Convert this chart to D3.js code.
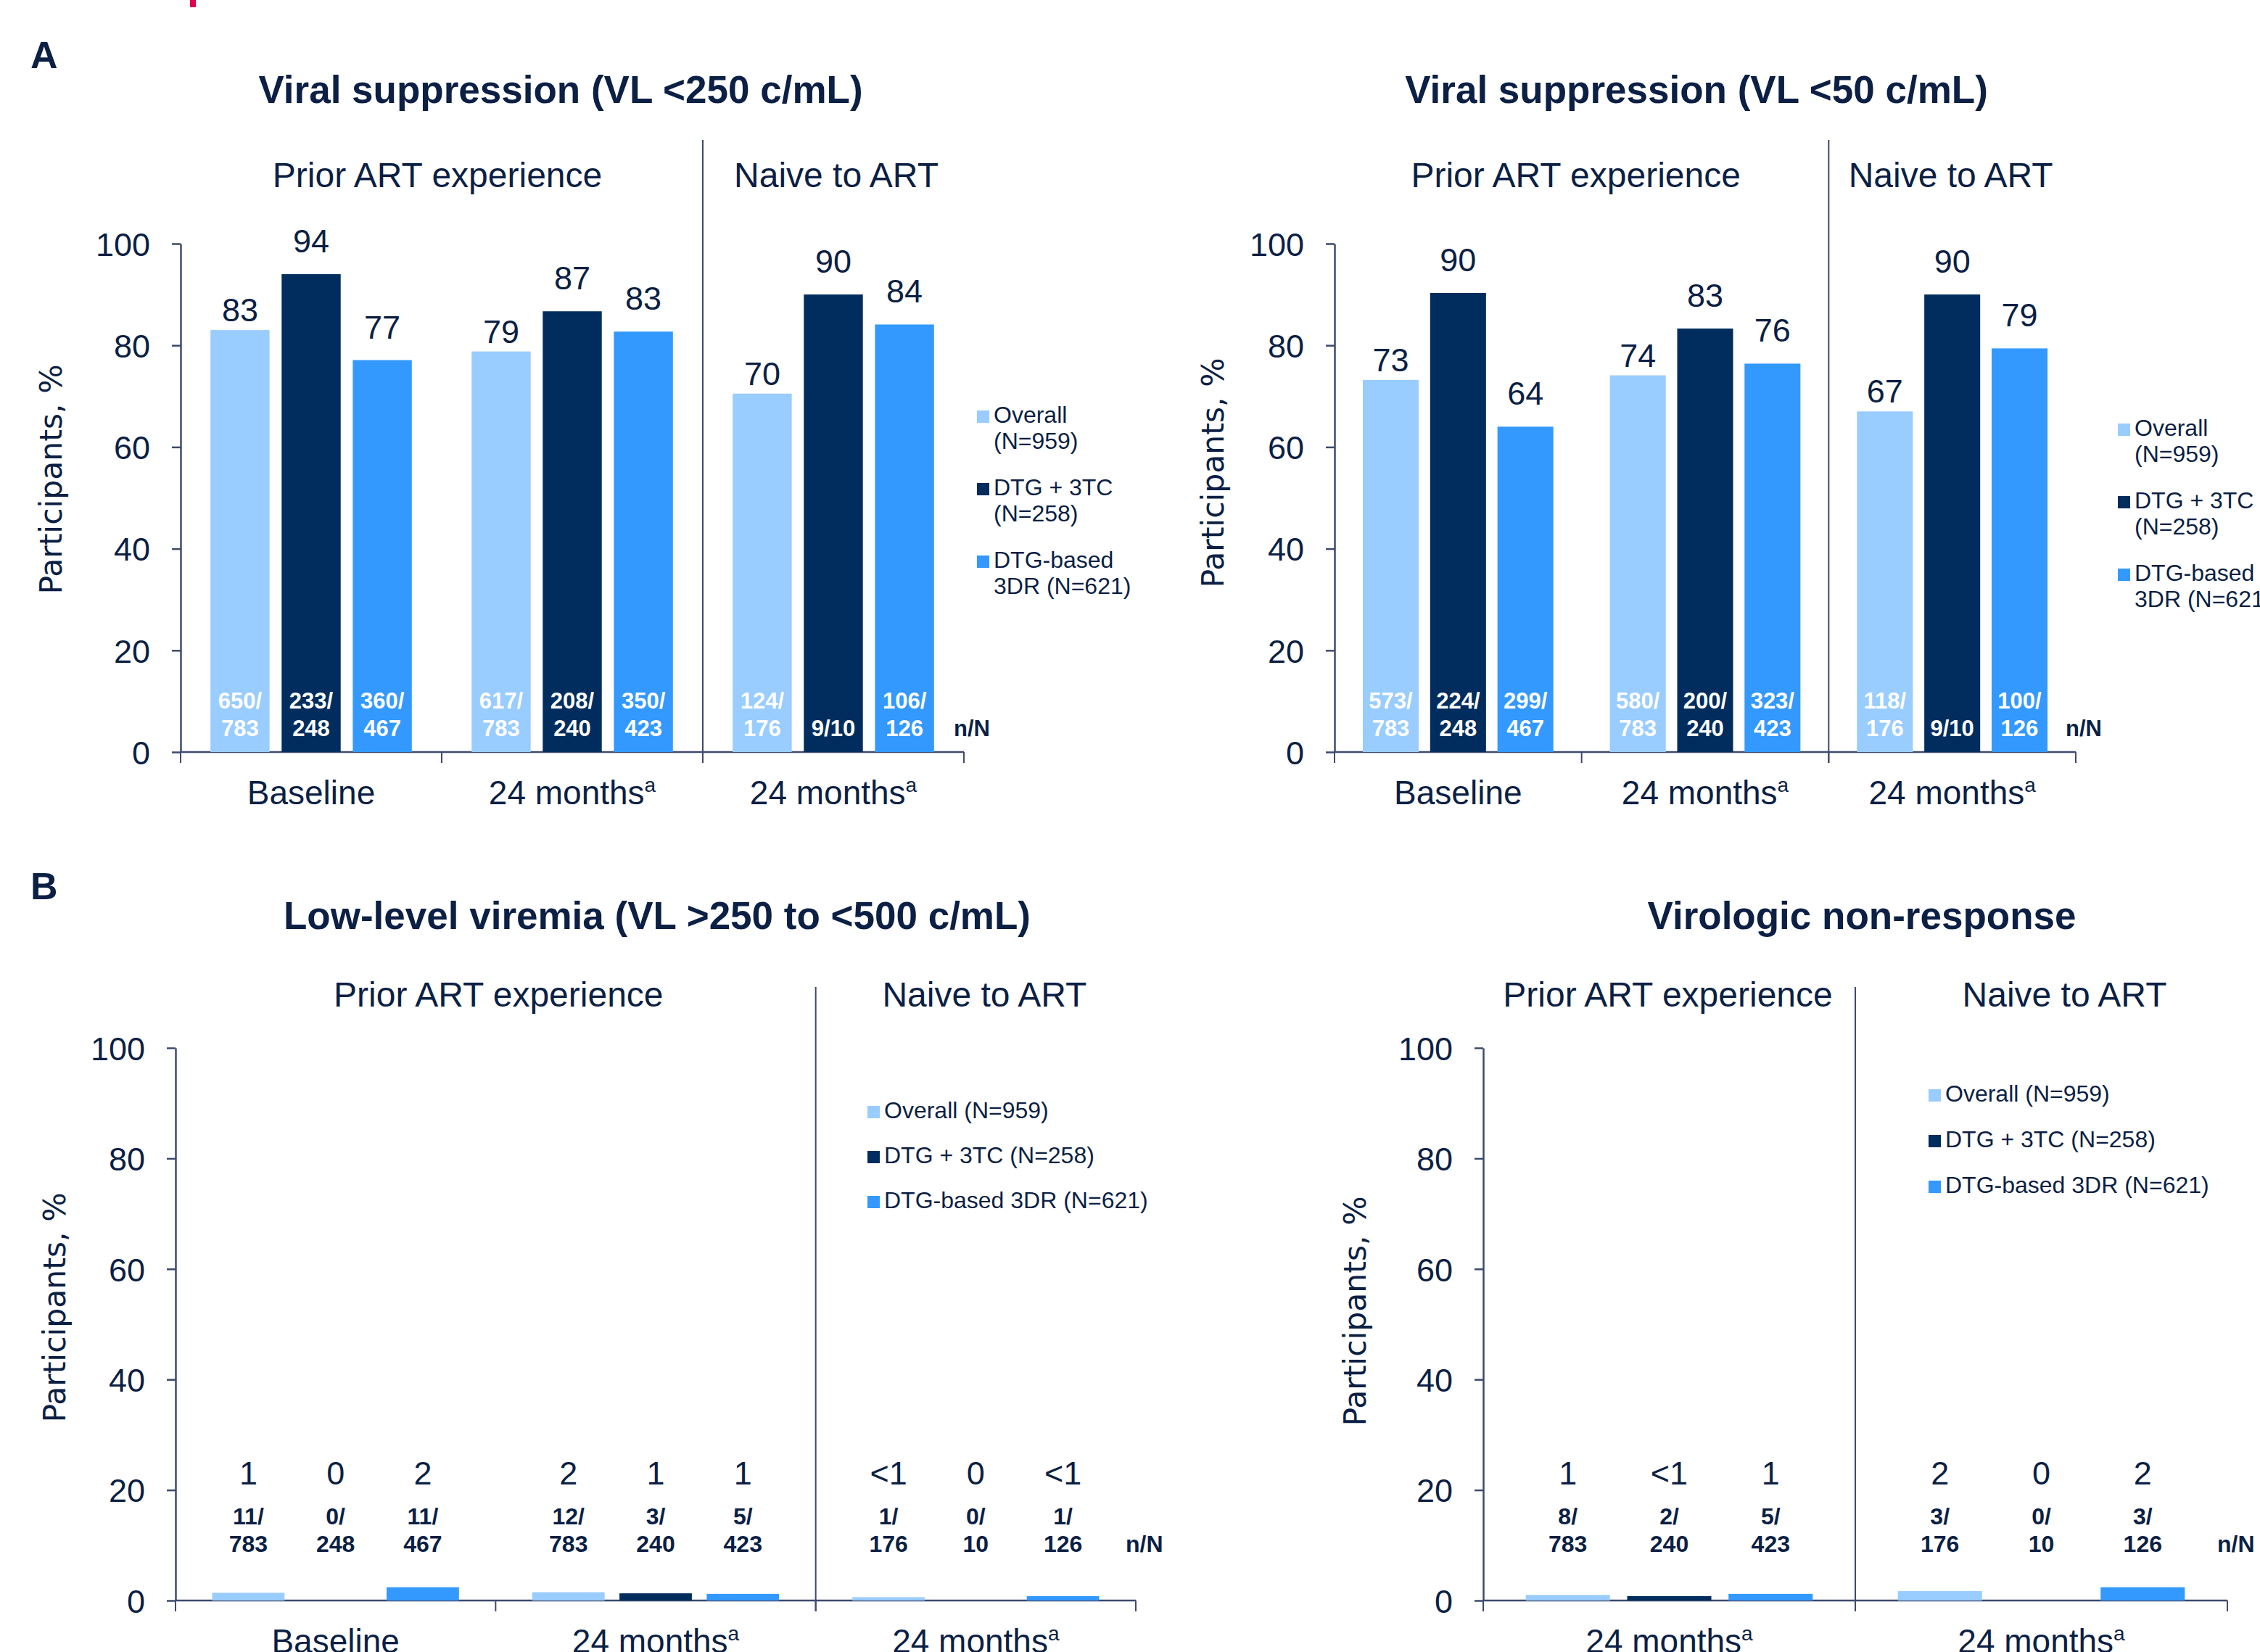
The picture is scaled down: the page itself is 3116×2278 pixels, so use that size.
<!DOCTYPE html>
<html>
<head>
<meta charset="UTF-8">
<style>
    body { margin: 0; background: #ffffff; }
    text { font-family: "Liberation Sans", Arial, sans-serif; fill: #0c1f44; }
    .ytitle { font-family: "DejaVu Sans", Verdana, sans-serif; }
</style>
</head>
<body>
<svg id="chart"></svg>
<script src="https://d3js.org/d3.v7.min.js"></script>
<script>
const width = 3116, height = 2278;
const axisColor = "#3d4a6d";
const textColor = "#0c1f44";

// series / legend
const seriesTwoLine = [["Overall", "(N=959)"], ["DTG + 3TC", "(N=258)"], ["DTG-based", "3DR (N=621)"]];
const seriesOneLine = [["Overall (N=959)"], ["DTG + 3TC (N=258)"], ["DTG-based 3DR (N=621)"]];
const colors = ["#99ccff", "#002d5e", "#3399ff"];
const labelGap = [12, 30, 30];   // space between bar top and value label, per series
const yTicks = [0, 20, 40, 60, 80, 100];

// A: viral suppression VL <250
const vl250Groups = ["Baseline", "24 months", "24 months"];
const vl250Notes = ["", "a", "a"];
const vl250Values = [[83.0, 94.0, 77.1], [78.8, 86.7, 82.7], [70.5, 90.0, 84.1]];
const vl250Labels = [["83", "94", "77"], ["79", "87", "83"], ["70", "90", "84"]];
const vl250NN = [[["650/", "783"], ["233/", "248"], ["360/", "467"]],
                 [["617/", "783"], ["208/", "240"], ["350/", "423"]],
                 [["124/", "176"], ["9/10"], ["106/", "126"]]];

// A: viral suppression VL <50
const vl50Groups = ["Baseline", "24 months", "24 months"];
const vl50Notes = ["", "a", "a"];
const vl50Values = [[73.2, 90.3, 64.0], [74.1, 83.3, 76.4], [67.0, 90.0, 79.4]];
const vl50Labels = [["73", "90", "64"], ["74", "83", "76"], ["67", "90", "79"]];
const vl50NN = [[["573/", "783"], ["224/", "248"], ["299/", "467"]],
                [["580/", "783"], ["200/", "240"], ["323/", "423"]],
                [["118/", "176"], ["9/10"], ["100/", "126"]]];

// B: low-level viremia
const llvGroups = ["Baseline", "24 months", "24 months"];
const llvNotes = ["", "a", "a"];
const llvValues = [[1.4, 0, 2.4], [1.5, 1.3, 1.2], [0.6, 0, 0.8]];
const llvLabels = [["1", "0", "2"], ["2", "1", "1"], ["<1", "0", "<1"]];
const llvNN = [[["11/", "783"], ["0/", "248"], ["11/", "467"]],
               [["12/", "783"], ["3/", "240"], ["5/", "423"]],
               [["1/", "176"], ["0/", "10"], ["1/", "126"]]];

// B: virologic non-response
const vnrGroups = ["24 months", "24 months"];
const vnrNotes = ["a", "a"];
const vnrValues = [[1.0, 0.8, 1.2], [1.7, 0, 2.4]];
const vnrLabels = [["1", "<1", "1"], ["2", "0", "2"]];
const vnrNN = [[["8/", "783"], ["2/", "240"], ["5/", "423"]],
               [["3/", "176"], ["0/", "10"], ["3/", "126"]]];

let svg = d3.select("#chart")
    .attr("width", width)
    .attr("height", height)
    .style("display", "block");

svg.append("rect").attr("width", width).attr("height", height).attr("fill", "#ffffff");

// little red mark at the top (cropped header)
svg.append("rect").attr("x", 262).attr("y", 0).attr("width", 8).attr("height", 10).attr("fill", "#e0004d");

// panel letters
svg.append("text").attr("x", 42).attr("y", 94).attr("font-size", 52).attr("font-weight", "bold").text("A");
svg.append("text").attr("x", 42).attr("y", 1240).attr("font-size", 52).attr("font-weight", "bold").text("B");

function drawPanel(p) {
    const g = svg.append("g");
    const nG = p.groups.length;

    const xGroup = d3.scaleBand().domain(d3.range(nG)).range([p.left, p.right]).padding(0);
    const xBar = d3.scaleBand().domain(d3.range(3)).range([0, xGroup.bandwidth()])
        .paddingInner(0.17).paddingOuter(0.42);
    const y = d3.scaleLinear().domain([0, 100]).range([p.bottom, p.top]);

    // title + sub headers
    g.append("text").attr("x", p.titleX).attr("y", p.titleY)
        .attr("text-anchor", "middle").attr("font-size", 53).attr("font-weight", "bold").text(p.title);

    const priorEnd = nG - 1;
    const priorCenter = (xGroup(0) + xGroup(priorEnd)) / 2;
    const naiveCenter = xGroup(priorEnd) + xGroup.bandwidth() / 2;
    g.append("text").attr("x", priorCenter + p.priorDx).attr("y", p.subY)
        .attr("text-anchor", "middle").attr("font-size", 48).text("Prior ART experience");
    g.append("text").attr("x", naiveCenter + p.naiveDx).attr("y", p.subY)
        .attr("text-anchor", "middle").attr("font-size", 48).text("Naive to ART");

    // divider between prior / naive
    g.append("line")
        .attr("x1", xGroup(priorEnd)).attr("x2", xGroup(priorEnd))
        .attr("y1", p.dividerTop).attr("y2", p.bottom + 15)
        .attr("stroke", axisColor).attr("stroke-width", 2);

    // y axis
    const yAxis = g.append("g")
        .attr("transform", `translate(${p.left},0)`)
        .call(d3.axisLeft(y).tickValues(yTicks).tickSize(12).tickSizeOuter(0).tickPadding(30));
    yAxis.select(".domain").attr("stroke", axisColor).attr("stroke-width", 2.5);
    yAxis.selectAll(".tick line").attr("stroke", axisColor).attr("stroke-width", 2.5);
    yAxis.selectAll(".tick text").attr("font-size", 45).attr("dy", "0.36em");

    g.append("text").attr("class", "ytitle")
        .attr("transform", `translate(${p.yTitleX},${p.yTitleY}) rotate(-90)`)
        .attr("text-anchor", "middle").attr("dy", "0.36em")
        .attr("font-size", 42.5).text("Participants, %");

    // x axis line + group boundary ticks
    g.append("line").attr("x1", p.left).attr("x2", p.right)
        .attr("y1", p.bottom).attr("y2", p.bottom)
        .attr("stroke", axisColor).attr("stroke-width", 2.5);
    g.selectAll(".gtick").data(d3.range(nG + 1)).enter().append("line")
        .attr("x1", d => d < nG ? xGroup(d) : p.right)
        .attr("x2", d => d < nG ? xGroup(d) : p.right)
        .attr("y1", p.bottom).attr("y2", p.bottom + 15)
        .attr("stroke", axisColor).attr("stroke-width", 2);

    // group labels
    const gl = g.selectAll(".glabel").data(p.groups).enter().append("text")
        .attr("x", (d, i) => xGroup(i) + xGroup.bandwidth() / 2)
        .attr("y", p.bottom + 72)
        .attr("text-anchor", "middle").attr("font-size", 46);
    gl.append("tspan").text(d => d);
    gl.append("tspan").attr("font-size", 28).attr("dy", -17).text((d, i) => p.notes[i]);

    // bars
    const flat = [];
    p.values.forEach((row, i) => row.forEach((v, j) => flat.push({
        i: i, j: j, v: v, label: p.labels[i][j], nn: p.nn[i][j]
    })));

    g.selectAll(".bar").data(flat.filter(d => d.v > 0)).enter().append("rect")
        .attr("x", d => xGroup(d.i) + xBar(d.j))
        .attr("y", d => y(d.v))
        .attr("width", xBar.bandwidth())
        .attr("height", d => y(0) - y(d.v))
        .attr("fill", d => colors[d.j]);

    // value labels
    g.selectAll(".val").data(flat).enter().append("text")
        .attr("x", d => xGroup(d.i) + xBar(d.j) + xBar.bandwidth() / 2)
        .attr("y", d => p.valueY ? p.valueY : y(d.v) - labelGap[d.j])
        .attr("text-anchor", "middle").attr("font-size", 45)
        .text(d => d.label);

    // n/N labels, lines stacked from the bottom
    flat.forEach(d => {
        const cx = xGroup(d.i) + xBar(d.j) + xBar.bandwidth() / 2;
        const k = d.nn.length;
        d.nn.forEach((line, li) => {
            g.append("text")
                .attr("x", cx)
                .attr("y", p.nnBase - (k - 1 - li) * 38)
                .attr("text-anchor", "middle")
                .attr("font-size", p.nnSize).attr("font-weight", "bold")
                .style("fill", p.nnColor)
                .text(line);
        });
    });
    g.append("text").attr("x", p.right - 14).attr("y", p.nnBase)
        .attr("font-size", p.nnSize).attr("font-weight", "bold").text("n/N");

    // legend
    const leg = g.selectAll(".leg").data(p.legendItems).enter().append("g")
        .attr("transform", (d, i) => `translate(${p.legendX},${p.legendY + i * p.legendStep})`);
    leg.append("rect").attr("x", 0).attr("y", -17).attr("width", 17).attr("height", 17)
        .attr("fill", (d, i) => colors[i]);
    leg.each(function (d) {
        d3.select(this).selectAll("text").data(d).enter().append("text")
            .attr("x", 23).attr("y", (t, k) => k * 36)
            .attr("font-size", 32).text(t => t);
    });
}

drawPanel({
    left: 249, right: 1329, top: 336, bottom: 1037,
    groups: vl250Groups, notes: vl250Notes, values: vl250Values, labels: vl250Labels, nn: vl250NN,
    title: "Viral suppression (VL <250 c/mL)", titleX: 773, titleY: 142, subY: 258, dividerTop: 193,
    priorDx: -6, naiveDx: 4,
    yTitleX: 70, yTitleY: 661,
    nnBase: 1015, nnSize: 31, nnColor: "#ffffff", valueY: null,
    legendItems: seriesTwoLine, legendX: 1347, legendY: 583, legendStep: 100
});

drawPanel({
    left: 1840, right: 2862, top: 336, bottom: 1037,
    groups: vl50Groups, notes: vl50Notes, values: vl50Values, labels: vl50Labels, nn: vl50NN,
    title: "Viral suppression (VL <50 c/mL)", titleX: 2339, titleY: 142, subY: 258, dividerTop: 193,
    priorDx: -8, naiveDx: -2,
    yTitleX: 1672, yTitleY: 652,
    nnBase: 1015, nnSize: 31, nnColor: "#ffffff", valueY: null,
    legendItems: seriesTwoLine, legendX: 2920, legendY: 601, legendStep: 100
});

drawPanel({
    left: 242, right: 1566, top: 1445, bottom: 2207,
    groups: llvGroups, notes: llvNotes, values: llvValues, labels: llvLabels, nn: llvNN,
    title: "Low-level viremia (VL >250 to <500 c/mL)", titleX: 906, titleY: 1281, subY: 1388, dividerTop: 1361,
    priorDx: 4, naiveDx: 12,
    yTitleX: 75, yTitleY: 1803,
    nnBase: 2140, nnSize: 32, nnColor: textColor, valueY: 2047,
    legendItems: seriesOneLine, legendX: 1196, legendY: 1542, legendStep: 62
});

drawPanel({
    left: 2045, right: 3071, top: 1445, bottom: 2207,
    groups: vnrGroups, notes: vnrNotes, values: vnrValues, labels: vnrLabels, nn: vnrNN,
    title: "Virologic non-response", titleX: 2567, titleY: 1281, subY: 1388, dividerTop: 1361,
    priorDx: -2, naiveDx: 32,
    yTitleX: 1868, yTitleY: 1808,
    nnBase: 2140, nnSize: 32, nnColor: textColor, valueY: 2047,
    legendItems: seriesOneLine, legendX: 2659, legendY: 1519, legendStep: 63
});
</script>
</body>
</html>
